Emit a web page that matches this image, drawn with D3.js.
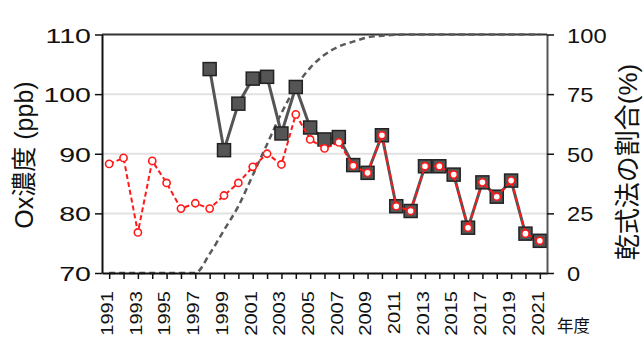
<!DOCTYPE html>
<html>
<head>
<meta charset="utf-8">
<script src="https://cdn.jsdelivr.net/npm/d3@7"></script>
<style>
  html, body { margin: 0; padding: 0; background: #fff; }
  svg { display: block; font-family: "Liberation Sans", Arial, "Noto Sans CJK JP", sans-serif; }
</style>
</head>
<body>
<div id="chart"></div>
<script>
// fiscal years on the x axis
const years = [1991, 1992, 1993, 1994, 1995, 1996, 1997, 1998, 1999, 2000,
    2001, 2002, 2003, 2004, 2005, 2006, 2007, 2008, 2009, 2010,
    2011, 2012, 2013, 2014, 2015, 2016, 2017, 2018, 2019, 2020, 2021];

// Ox (ppb), open red circles, dashed red line
const oxRed = [88.3, 89.3, 76.8, 88.8, 85.1, 80.8, 81.7, 80.8, 83.0, 85.1,
    87.8, 90.0, 88.2, 96.6, 92.4, 90.9, 91.9, 88.0, 86.8, 93.1,
    81.2, 80.4, 87.9, 87.9, 86.5, 77.6, 85.2, 82.8, 85.5, 76.6, 75.4];

// Ox (ppb), grey squares, solid line (no data before 1998)
const oxGray = [null, null, null, null, null, null, null, 104.2, 90.6, 98.4,
    102.6, 102.9, 93.4, 101.2, 94.4, 92.4, 92.8, 88.1, 86.8, 93.1,
    81.2, 80.4, 87.9, 87.9, 86.5, 77.6, 85.2, 82.8, 85.5, 76.6, 75.4];

// share of dry method (%), grey dashed curve on right axis
const dryShare = [0, 0, 0, 0, 0, 0, 0, 8, 18, 28,
    41, 54, 67, 78, 86, 91.5, 95, 97, 98.8, 99.5,
    99.9, 100, 100, 100, 100, 100, 100, 100, 100, 100, 100];

const leftTicks = [70, 80, 90, 100, 110];
const rightTicks = [0, 25, 50, 75, 100];
const gridTicks = [80, 90, 100];

const W = 643, H = 338;
const plot = { left: 102, right: 547, top: 34.5, bottom: 273 };

const x = d3.scaleLinear().domain([1990.5, 2021.5]).range([plot.left, plot.right]);
const y = d3.scaleLinear().domain([70, 110]).range([plot.bottom, plot.top]);
const y2 = d3.scaleLinear().domain([0, 100]).range([plot.bottom, plot.top]);

const svg = d3.select("#chart").append("svg")
    .attr("width", W)
    .attr("height", H);

// horizontal grid
svg.append("g")
    .selectAll("line")
    .data(gridTicks)
    .enter().append("line")
    .attr("x1", plot.left)
    .attr("x2", plot.right)
    .attr("y1", d => y(d))
    .attr("y2", d => y(d))
    .style("stroke", "#e2e2e2")
    .style("stroke-width", 2);

// top border
svg.append("line")
    .attr("x1", plot.left)
    .attr("x2", plot.right)
    .attr("y1", plot.top)
    .attr("y2", plot.top)
    .style("stroke", "#333")
    .style("stroke-width", 2);

// dry method share curve
svg.append("path")
    .datum(years.map((yr, i) => ({ yr, v: dryShare[i] })))
    .attr("d", d3.line().x(d => x(d.yr)).y(d => y2(d.v)).curve(d3.curveMonotoneX))
    .style("fill", "none")
    .style("stroke", "#5a5a5a")
    .style("stroke-width", 2.5)
    .style("stroke-dasharray", "6,4");

// grey squares series
const grayData = years.map((yr, i) => ({ yr, v: oxGray[i] })).filter(d => d.v !== null);

svg.append("path")
    .datum(grayData)
    .attr("d", d3.line().x(d => x(d.yr)).y(d => y(d.v)))
    .style("fill", "none")
    .style("stroke", "#555")
    .style("stroke-width", 3);

const sq = 13;
svg.append("g")
    .selectAll("rect")
    .data(grayData)
    .enter().append("rect")
    .attr("x", d => x(d.yr) - sq / 2)
    .attr("y", d => y(d.v) - sq / 2)
    .attr("width", sq)
    .attr("height", sq)
    .style("fill", "#555")
    .style("stroke", "#222")
    .style("stroke-width", 1.5);

// red circles series
const redData = years.map((yr, i) => ({ yr, v: oxRed[i] }));

svg.append("path")
    .datum(redData)
    .attr("d", d3.line().x(d => x(d.yr)).y(d => y(d.v)))
    .style("fill", "none")
    .style("stroke", "#ff1a1a")
    .style("stroke-width", 2)
    .style("stroke-dasharray", "5,3");

svg.append("g")
    .selectAll("circle")
    .data(redData)
    .enter().append("circle")
    .attr("cx", d => x(d.yr))
    .attr("cy", d => y(d.v))
    .attr("r", 3.6)
    .style("fill", "#fff")
    .style("stroke", "#ff1a1a")
    .style("stroke-width", 1.6);

// axes
function styleAxis(g, stroke) {
    g.select(".domain").style("stroke", stroke).style("stroke-width", 2);
    g.selectAll(".tick line").style("stroke", "#111").style("stroke-width", 1.5);
    g.selectAll(".tick text").style("fill", "#111");
}

const xAxis = svg.append("g")
    .attr("transform", `translate(0,${plot.bottom})`)
    .call(d3.axisBottom(x)
        .tickValues(years)
        .tickSize(6)
        .tickSizeOuter(0)
        .tickFormat(d => d % 2 === 1 ? d : ""));
styleAxis(xAxis, "#111");
xAxis.selectAll(".tick text")
    .attr("x", null)
    .attr("y", null)
    .attr("dy", "0.2em")
    .attr("transform", "translate(0,18) rotate(-90) scale(1.22,1)")
    .style("text-anchor", "end")
    .style("font-size", "16.5px");

const yAxis = svg.append("g")
    .attr("transform", `translate(${plot.left},0)`)
    .call(d3.axisLeft(y).tickValues(leftTicks).tickSize(7).tickSizeOuter(0));
styleAxis(yAxis, "#111");
yAxis.selectAll(".tick text")
    .attr("x", null)
    .attr("dy", "0.36em")
    .attr("transform", "translate(-11,0) scale(1.36,1)")
    .style("text-anchor", "end")
    .style("font-size", "21px");

const y2Axis = svg.append("g")
    .attr("transform", `translate(${plot.right},0)`)
    .call(d3.axisRight(y2).tickValues(rightTicks).tickSize(7).tickSizeOuter(0));
styleAxis(y2Axis, "#555");
y2Axis.selectAll(".tick text")
    .attr("x", null)
    .attr("dy", "0.36em")
    .attr("transform", "translate(20,0) scale(1.13,1)")
    .style("text-anchor", "start")
    .style("font-size", "21px");

// axis titles
svg.append("text")
    .attr("transform", "translate(24,155) rotate(-90)")
    .attr("dy", "0.35em")
    .style("text-anchor", "middle")
    .style("font-size", "25px")
    .style("fill", "#111")
    .text("Ox濃度 (ppb)");

svg.append("text")
    .attr("transform", "translate(628,162) rotate(-90)")
    .attr("dy", "0.35em")
    .style("text-anchor", "middle")
    .style("font-size", "26px")
    .style("fill", "#111")
    .text("乾式法の割合(%)");

svg.append("text")
    .attr("x", 557)
    .attr("y", 332)
    .style("font-size", "16.5px")
    .style("fill", "#111")
    .text("年度");
</script>
</body>
</html>
